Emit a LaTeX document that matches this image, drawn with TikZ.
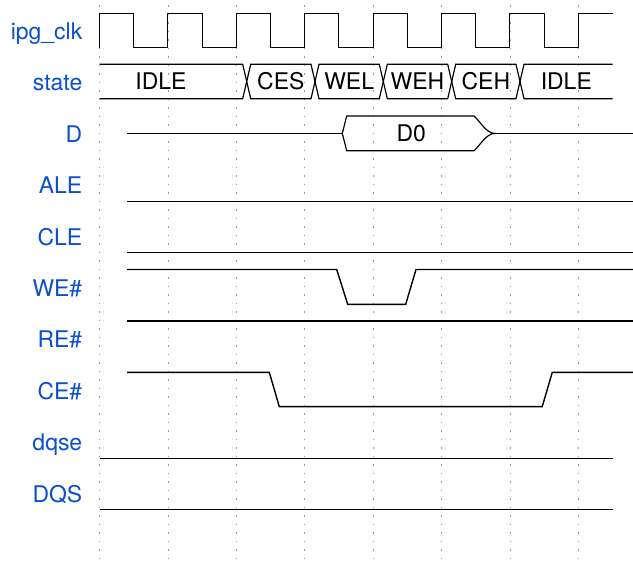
\documentclass[tikz,border=0pt]{standalone}
\usepackage{fontspec}
\setmainfont{TeX Gyre Heros}
\usepackage{tikz}
\usetikzlibrary{positioning}
\usepackage{xcolor}
\definecolor{sigblue}{HTML}{0B4FD1}
\definecolor{gridgray}{HTML}{9A9A9A}

\begin{document}
\begin{tikzpicture}[
  x=0.3mm, y=-0.3mm,
  siglabel/.style={
    anchor=base east, inner sep=0pt, text=sigblue,
    font=\fontsize{19.6}{23}\selectfont
  },
  stateval/.style={
    inner sep=0pt, text=black,
    font=\fontsize{19.6}{23}\selectfont
  },
  wave/.style={draw=black, line width=1.2pt, line join=miter},
  busline/.style={draw=black, line width=1pt, line join=miter},
  gridline/.style={draw=gridgray, line width=0.4pt,
    dash pattern=on 0.45mm off 2.1mm},
]
\useasboundingbox (0,0) rectangle (633,567);
% dotted time grid
\foreach \gx in {99.5,167.9,236.3,304.7,373.1,441.5,509.9,578.3} {
  \draw[gridline] (\gx,5) -- (\gx,563);
}
% signal names
\foreach \i/\name in {0/ipg\_clk, 1/state, 2/D, 3/ALE, 4/CLE,
                      5/WE\#, 6/RE\#, 7/CE\#, 8/dqse, 9/DQS} {
  \node[siglabel] (sig-\i) at (82.5, 39.5+51.4*\i) {\name};
}
% clock
\draw[busline] (99.5,47.7) -- (99.5,13.3)
  foreach \k in {0,...,6} { -- ++(34.2,0) -- ++(0,34.4) -- ++(34.2,0) -- ++(0,-34.4) }
  -- ++(34.2,0);
% state bus
\draw[busline] (99.5,64.3) -- (242.7,64.3) -- (246.7,81.5) -- (242.7,98.7) -- (99.5,98.7);
\foreach \a/\b/\txt in {246.7/315/CES, 315/383.3/WEL, 383.3/451.7/WEH, 451.7/520/CEH} {
  \draw[busline] (\a,81.5) -- (\a+4,64.3) -- (\b-4,64.3) -- (\b,81.5)
    -- (\b-4,98.7) -- (\a+4,98.7) -- cycle;
  \node[stateval] (st-\txt) at ({(\a+\b)/2},81.5) {\txt};
}
\draw[busline] (612.7,64.3) -- (524,64.3) -- (520,81.5) -- (524,98.7) -- (612.7,98.7);
\node[stateval] (st-idle) at (161,81.5) {IDLE};
\node[stateval] (st-idle2) at (566.3,81.5) {IDLE};
% data bus
\draw[wave] (127,133.4) -- (342.3,133.4);
\draw[busline] (342.3,133.4) -- (346.7,116) -- (474,116)
  .. controls (480,121) and (486,133.4) .. (495,133.4)
  .. controls (486,133.4) and (480,145.7) .. (474,150.7)
  -- (346.7,150.7) -- cycle;
\draw[wave] (495,133.4) -- (633,133.4);
\node[stateval] (d0) at (411.3,133.4) {D0};
% control lines
\draw[wave] (127,201.7) -- (633,201.7);
\draw[wave] (127,252.7) -- (633,252.7);
\draw[wave] (127,269.5) -- (336.7,269.5) -- (347.7,304.3) -- (405.7,304.3)
  -- (416,269.5) -- (633,269.5);
\draw[wave] (127,321) -- (633,321);
\draw[wave] (127,372.3) -- (269.3,372.3) -- (279.3,406.7) -- (542.2,406.7)
  -- (552.3,372.3) -- (633,372.3);
\draw[wave] (99.5,458.6) -- (612.7,458.6);
\draw[wave] (99.5,509.6) -- (612.7,509.6);
\end{tikzpicture}
\end{document}
